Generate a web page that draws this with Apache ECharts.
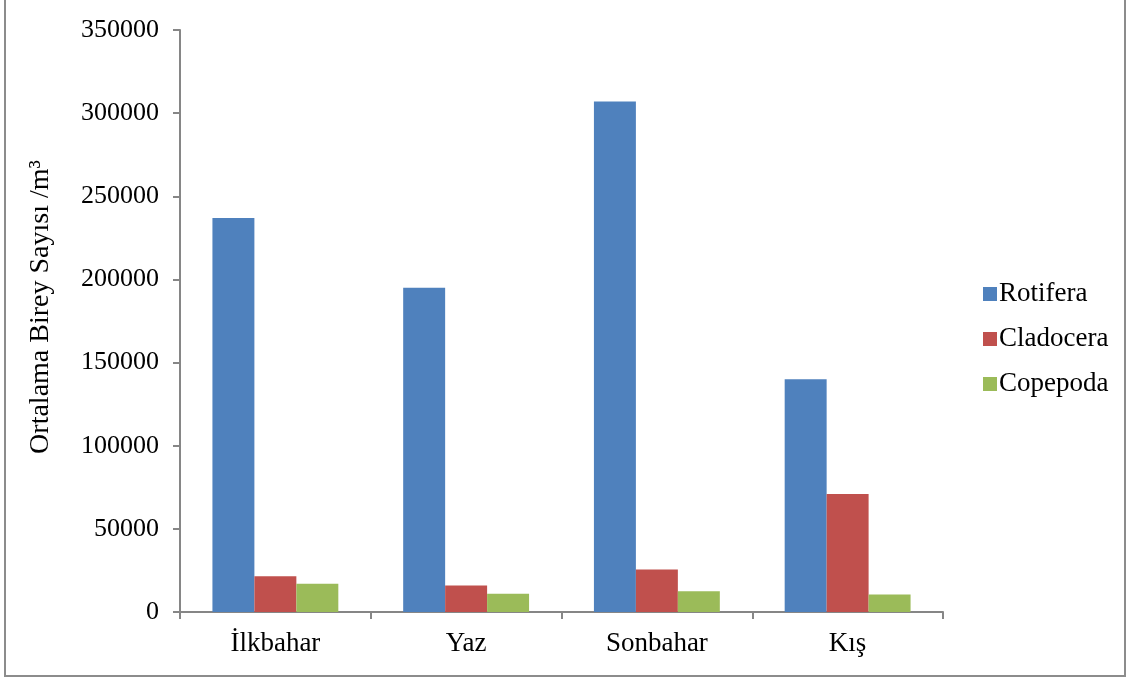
<!DOCTYPE html>
<html>
<head>
<meta charset="utf-8">
<script src="https://cdn.jsdelivr.net/npm/echarts@6/dist/echarts.min.js"></script>
<style>
  html, body { margin: 0; padding: 0; background: #fff; }
  #main { position: absolute; left: 4px; top: -2px; width: 1122px; height: 679px; border: 2px solid #8c8c8c; box-sizing: border-box; }
</style>
</head>
<body>
<div id="main"></div>
<script>
const seasons = ['İlkbahar', 'Yaz', 'Sonbahar', 'Kış'];
const rotifera = [237000, 195000, 307000, 140000];
const cladocera = [21500, 16000, 25500, 71000];
const copepoda = [17000, 11000, 12500, 10500];

const chart = echarts.init(document.getElementById('main'));
const font = '"Liberation Serif", "DejaVu Serif", serif';
const axisGray = '#868686';

const option = {
    animation: false,
    textStyle: { fontFamily: font },
    grid: { left: 174, right: 181, top: 30, bottom: 63 },
    legend: {
        orient: 'vertical',
        left: 972,
        top: 275,
        itemWidth: 14,
        itemHeight: 14,
        itemGap: 17,
        icon: 'rect',
        textStyle: { fontFamily: font, fontSize: 27, lineHeight: 28, color: '#000', padding: [0, 0, 0, -3] },
        data: ['Rotifera', 'Cladocera', 'Copepoda']
    },
    xAxis: {
        type: 'category',
        data: seasons,
        axisLine: { lineStyle: { color: axisGray, width: 2 } },
        axisTick: { show: true, length: 7, lineStyle: { color: axisGray, width: 2 } },
        axisLabel: { fontFamily: font, fontSize: 27, color: '#000', margin: 18 }
    },
    yAxis: {
        type: 'value',
        min: 0,
        max: 350000,
        interval: 50000,
        name: 'Ortalama Birey Sayısı /m³',
        nameLocation: 'middle',
        nameGap: 125,
        nameTextStyle: { fontFamily: font, fontSize: 28, color: '#000', padding: [0, 0, 0, 28] },
        splitLine: { show: false },
        axisLine: { show: true, lineStyle: { color: axisGray, width: 2 } },
        axisTick: { show: true, length: 7, lineStyle: { color: axisGray, width: 2 } },
        axisLabel: { fontFamily: font, fontSize: 26, color: '#000', margin: 21, formatter: v => String(v) }
    },
    series: [
        { name: 'Rotifera', type: 'bar', data: rotifera, itemStyle: { color: '#4f81bd' }, barGap: '0%', barCategoryGap: '34%' },
        { name: 'Cladocera', type: 'bar', data: cladocera, itemStyle: { color: '#c0504d' } },
        { name: 'Copepoda', type: 'bar', data: copepoda, itemStyle: { color: '#9bbb59' } }
    ]
};

chart.setOption(option);
</script>
</body>
</html>
